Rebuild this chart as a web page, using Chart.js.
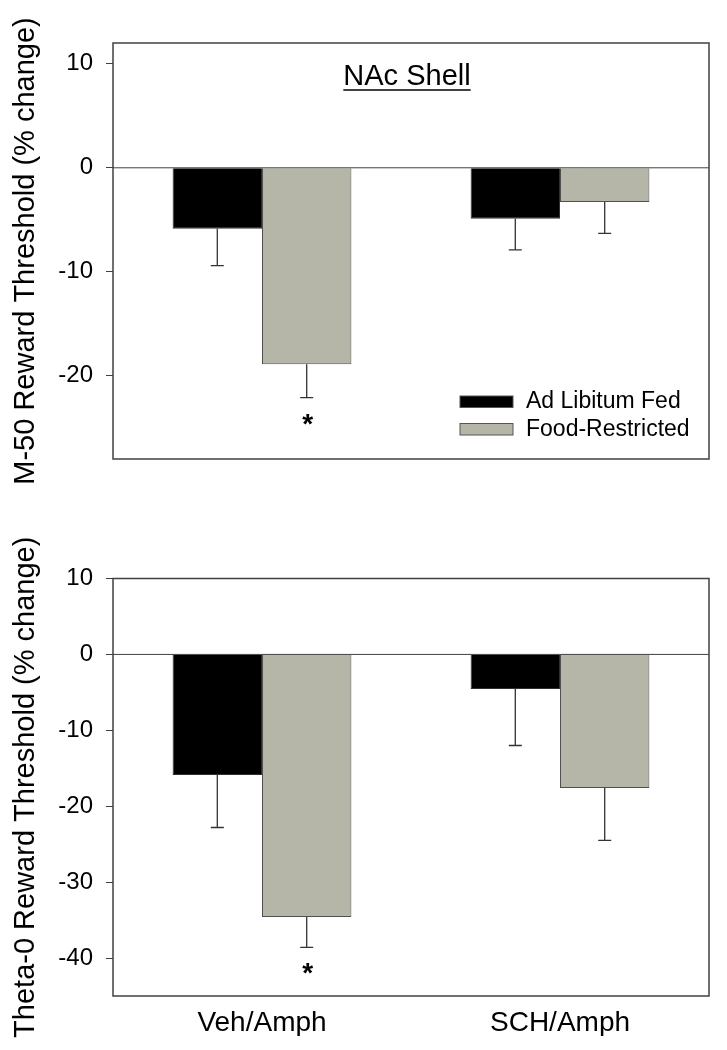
<!DOCTYPE html>
<html>
<head>
<meta charset="utf-8">
<script src="https://cdn.jsdelivr.net/npm/chart.js@4.4.1/dist/chart.umd.min.js"></script>
<style>
  html, body { margin: 0; padding: 0; background: #fff; }
  #wrap { width: 727px; height: 1050px; position: relative; }
  canvas { display: block; position: absolute; left: 0; }
  #m50Chart { top: 0; }
  #theta0Chart { top: 480px; }
</style>
</head>
<body>
<div id="wrap">
  <canvas id="m50Chart" width="727" height="500"></canvas>
  <canvas id="theta0Chart" width="727" height="570"></canvas>
</div>
<script>
// ---- data ----
const categories = ['Veh/Amph', 'SCH/Amph'];
const seriesNames = ['Ad Libitum Fed', 'Food-Restricted'];

// M-50 threshold, NAc shell (% change), with SEM
const m50AdLib = [-5.85, -4.9];
const m50AdLibErr = [3.55, 3.0];
const m50FoodR = [-18.9, -3.3];
const m50FoodRErr = [3.2, 3.0];
const m50FoodRSig = [true, false];
const m50Range = [-28, 12];
const m50Ticks = [-20, -10, 0, 10];

// Theta-0 threshold (% change), with SEM
const theta0AdLib = [-15.9, -4.55];
const theta0AdLibErr = [6.9, 7.45];
const theta0FoodR = [-34.6, -17.6];
const theta0FoodRErr = [4.0, 6.9];
const theta0FoodRSig = [true, false];
const theta0Range = [-45, 10];
const theta0Ticks = [-40, -30, -20, -10, 0, 10];

const FONT = '"Liberation Sans", Arial, Helvetica, sans-serif';
const FRAME = '#404040';
const COLORS = ['#000000', '#b5b5a8'];

Chart.defaults.font.family = FONT;
Chart.defaults.color = '#000';

/**
 * Draws the zero line, error bars, significance stars, plot frame,
 * and (optionally) the panel title and legend inside the plot area.
 */
const panelPlugin = {
    id: 'panel',
    afterDatasetsDraw(chart, args, opts) {
        const { ctx, chartArea: a } = chart;
        const y = chart.scales.y;
        ctx.save();

        // zero reference line
        const y0 = y.getPixelForValue(0);
        ctx.strokeStyle = FRAME;
        ctx.lineWidth = 1;
        ctx.beginPath();
        ctx.moveTo(a.left, y0);
        ctx.lineTo(a.right, y0);
        ctx.stroke();

        // error bars (away from zero only) and stars
        chart.data.datasets.forEach((ds, di) => {
            const meta = chart.getDatasetMeta(di);
            meta.data.forEach((bar, i) => {
                const v = ds.data[i];
                const end = v + Math.sign(v) * ds.errors[i];
                const yEnd = y.getPixelForValue(end);
                ctx.strokeStyle = '#333';
                ctx.lineWidth = 1.3;
                ctx.beginPath();
                ctx.moveTo(bar.x, bar.y);
                ctx.lineTo(bar.x, yEnd);
                ctx.moveTo(bar.x - 6.5, yEnd);
                ctx.lineTo(bar.x + 6.5, yEnd);
                ctx.stroke();

                if (ds.sig && ds.sig[i]) {
                    ctx.fillStyle = '#000';
                    ctx.font = 'bold 28px ' + FONT;
                    ctx.textAlign = 'center';
                    ctx.textBaseline = 'alphabetic';
                    ctx.fillText('*', bar.x + 1, yEnd + 35);
                }
            });
        });

        // frame around the plot area
        ctx.strokeStyle = FRAME;
        ctx.lineWidth = 1.5;
        ctx.strokeRect(a.left, a.top, a.right - a.left, a.bottom - a.top);

        // underlined panel title
        if (opts.title) {
            ctx.fillStyle = '#000';
            ctx.font = '29px ' + FONT;
            ctx.textAlign = 'center';
            ctx.textBaseline = 'alphabetic';
            const cx = (a.left + a.right) / 2 - 4;
            const by = a.top + 42;
            ctx.fillText(opts.title, cx, by);
            const w = ctx.measureText(opts.title).width;
            ctx.strokeStyle = '#000';
            ctx.lineWidth = 1.3;
            ctx.beginPath();
            ctx.moveTo(cx - w / 2, by + 5);
            ctx.lineTo(cx + w / 2, by + 5);
            ctx.stroke();
        }

        // legend in the lower right corner
        if (opts.legend) {
            const left = a.right - 249;
            let top = a.bottom - 63;
            ctx.font = '23px ' + FONT;
            ctx.textAlign = 'left';
            ctx.textBaseline = 'middle';
            chart.data.datasets.forEach(ds => {
                ctx.fillStyle = ds.backgroundColor;
                ctx.fillRect(left, top, 53, 11.5);
                ctx.strokeStyle = '#555';
                ctx.lineWidth = 1;
                ctx.strokeRect(left, top, 53, 11.5);
                ctx.fillStyle = '#000';
                ctx.fillText(ds.label, left + 66, top + 6);
                top += 27.5;
            });
        }
        ctx.restore();
    }
};

function makeDatasets(adLib, adLibErr, foodR, foodRErr, foodRSig) {
    return [
        { label: seriesNames[0], data: adLib, errors: adLibErr, sig: null,
          backgroundColor: COLORS[0], borderColor: '#303030', borderWidth: 1 },
        { label: seriesNames[1], data: foodR, errors: foodRErr, sig: foodRSig,
          backgroundColor: COLORS[1], borderColor: '#505050', borderWidth: 1 }
    ];
}

function makeChart(canvasId, cfg) {
    const ctx = document.getElementById(canvasId);
    const xScale = {
        display: cfg.showX,
        grid: { display: false, drawTicks: false },
        border: { display: false },
        ticks: { color: '#000', font: { size: 28 }, padding: 10 }
    };
    if (cfg.showX) {
        xScale.afterFit = scale => { scale.height = 40; };
    }
    return new Chart(ctx, {
        type: 'bar',
        data: { labels: categories, datasets: cfg.datasets },
        options: {
            responsive: false,
            animation: false,
            devicePixelRatio: 1,
            layout: { padding: cfg.padding },
            datasets: { bar: { categoryPercentage: 0.6, barPercentage: 1.0 } },
            scales: {
                x: xScale,
                y: {
                    min: cfg.range[0],
                    max: cfg.range[1],
                    afterBuildTicks(scale) {
                        scale.ticks = cfg.ticks.map(v => ({ value: v }));
                    },
                    ticks: { padding: 13, color: '#000', font: { size: 24 } },
                    grid: { drawOnChartArea: false, drawTicks: true, tickLength: 7,
                            color: FRAME, lineWidth: 1 },
                    border: { display: false },
                    title: { display: true, text: cfg.yTitle, color: '#000',
                             font: { size: 29 }, padding: 0 },
                    afterFit(scale) {
                        scale.width = 104;
                        scale.paddingTop = 0;
                        scale.paddingBottom = 0;
                    }
                }
            },
            plugins: {
                legend: { display: false },
                tooltip: { enabled: false },
                panel: { title: cfg.title, legend: cfg.legend }
            }
        },
        plugins: [panelPlugin]
    });
}

makeChart('m50Chart', {
    datasets: makeDatasets(m50AdLib, m50AdLibErr, m50FoodR, m50FoodRErr, m50FoodRSig),
    range: m50Range,
    ticks: m50Ticks,
    yTitle: 'M-50 Reward Threshold (% change)',
    title: 'NAc Shell',
    legend: true,
    showX: false,
    padding: { left: 9, right: 18, top: 43, bottom: 41 }
});

makeChart('theta0Chart', {
    datasets: makeDatasets(theta0AdLib, theta0AdLibErr, theta0FoodR, theta0FoodRErr, theta0FoodRSig),
    range: theta0Range,
    ticks: theta0Ticks,
    yTitle: 'Theta-0 Reward Threshold (% change)',
    title: null,
    legend: false,
    showX: true,
    padding: { left: 9, right: 18, top: 98.5, bottom: 14 }
});
</script>
</body>
</html>
